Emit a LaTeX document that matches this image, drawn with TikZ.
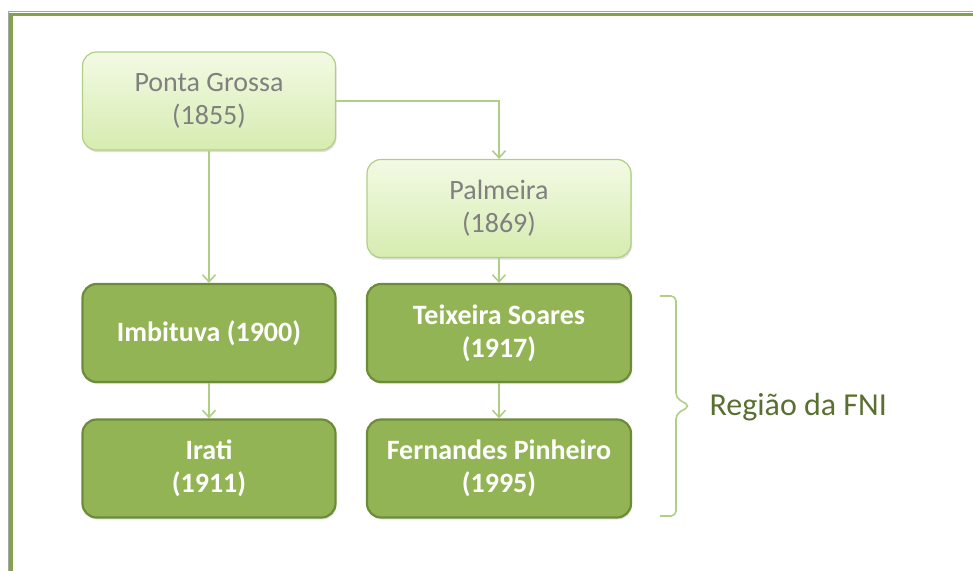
\documentclass[tikz,border=0pt]{standalone}
\usepackage{fontspec}
\setmainfont{Carlito}
\usepackage{tikz}
\usetikzlibrary{arrows.meta, positioning, shadows}
\definecolor{fnigreen}{RGB}{146, 180, 84}
\definecolor{fnidark}{RGB}{108, 140, 58}
\definecolor{fnilight}{RGB}{176, 207, 132}
\definecolor{fnitop}{RGB}{243, 250, 228}
\definecolor{fnibottom}{RGB}{214, 236, 176}
\definecolor{fnitext}{RGB}{90, 112, 48}
\definecolor{fnigray}{RGB}{128, 128, 128}

\begin{document}
\begin{tikzpicture}[x=1pt, y=-1pt,
  oldtown/.style={draw=fnilight, line width=1.2pt, rounded corners=14pt,
    top color=fnitop, bottom color=fnibottom, text=fnigray,
    minimum width=253pt, minimum height=98pt, align=center,
    font=\fontsize{28}{33}\selectfont,
    drop shadow={shadow xshift=1pt, shadow yshift=-2pt, opacity=0.25}},
  newtown/.style={draw=fnidark, line width=2.2pt, rounded corners=14pt,
    fill=fnigreen, text=white,
    minimum width=253pt, minimum height=98pt, align=center,
    font=\fontsize{28}{33}\selectfont\bfseries,
    drop shadow={shadow xshift=1pt, shadow yshift=-2pt, opacity=0.2}},
  wide/.style={minimum width=264pt},
  link/.style={-{Straight Barb[length=7pt, width=13pt]}, draw=fnilight, line width=1.6pt}]
\useasboundingbox (0,0) rectangle (973,570);
% frame
\draw[gray!70, line width=1pt] (8,575) -- (8,11) -- (980,11);
\draw[fnigreen!90!black, line width=3.5pt] (11,575) -- (11,14.5) -- (980,14.5);

% towns
\node[oldtown] (pg) at (209,101) {Ponta Grossa\\(1855)};
\node[oldtown, wide] (palm) at (499,208.5) {Palmeira\\(1869)};
\node[newtown] (imb) at (209,333) {Imbituva (1900)};
\node[newtown, wide] (teix) at (499,333) {Teixeira Soares\\(1917)};
\node[newtown] (irati) at (209,468.5) {Irati\\(1911)};
\node[newtown, wide] (fern) at (499,468.5) {Fernandes Pinheiro\\(1995)};

% links
\draw[link] (pg) -- (imb);
\draw[link] (pg.east) -| (palm.north);
\draw[link] (palm) -- (teix);
\draw[link] (imb) -- (irati);
\draw[link] (teix) -- (fern);

% region
\draw[fnilight, line width=1.6pt, rounded corners=5pt]
  (660,296) -- (676,296) -- (676,398) -- (690,406) -- (676,414) -- (676,516) -- (660,516);
\node[anchor=west, text=fnitext, font=\fontsize{32}{36}\selectfont] (fni) at (706,407) {Região da FNI};
\end{tikzpicture}
\end{document}
